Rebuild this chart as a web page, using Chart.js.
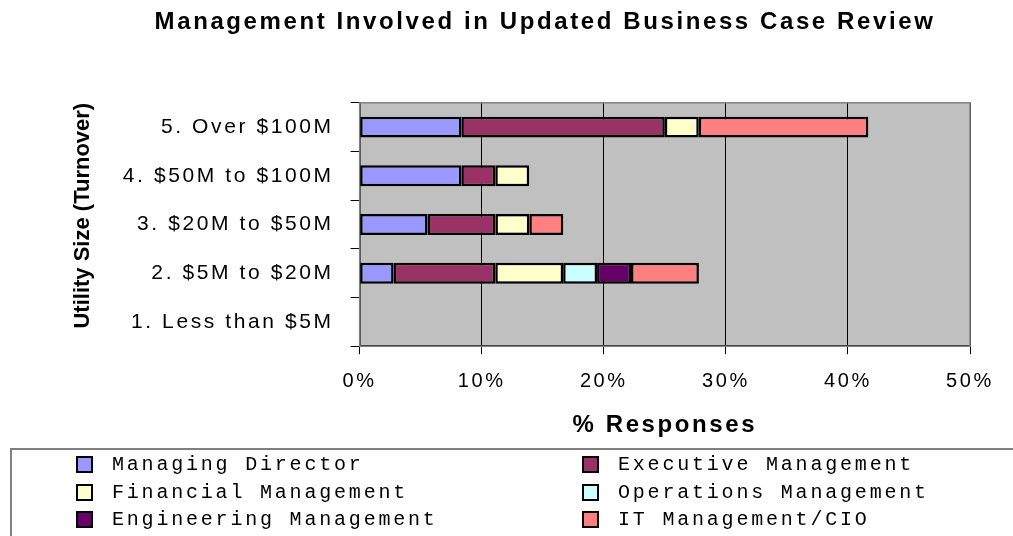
<!DOCTYPE html>
<html>
<head>
<meta charset="utf-8">
<title>Management Involved in Updated Business Case Review</title>
<script src="https://cdn.jsdelivr.net/npm/chart.js@4"></script>
<style>
  body { margin: 0; background: #fff; overflow: hidden; }
  #wrap { position: relative; width: 1013px; height: 536px; }
  #legend {
    position: absolute;
    left: 10px;
    top: 448px;
    width: 1020px;
    height: 100px;
    box-sizing: border-box;
    border-top: 2px solid #808080;
    border-left: 2px solid #808080;
    padding: 1px 0 0 64px;
    display: grid;
    grid-template-columns: 506px auto;
    grid-auto-rows: 27.5px;
    font-family: "Liberation Mono", monospace;
    font-size: 20px;
    letter-spacing: 2.8px;
    color: #000;
  }
  .item { display: flex; align-items: center; white-space: nowrap; }
  .swatch { width: 13px; height: 13px; border: 2px solid #000; margin-right: 19px; }
</style>
</head>
<body>
<div id="wrap">
  <canvas id="chart" width="1013" height="536"></canvas>
  <div id="legend"></div>
</div>
<script>
const sizeLabels = [
  "5. Over $100M",
  "4. $50M to $100M",
  "3. $20M to $50M",
  "2. $5M to $20M",
  "1. Less than $5M",
];

const roleNames = [
  "Managing Director",
  "Executive Management",
  "Financial Management",
  "Operations Management",
  "Engineering Management",
  "IT Management/CIO",
];

const roleColors = ["#9999FF", "#993366", "#FFFFCC", "#CCFFFF", "#660066", "#FF8080"];

// % of responses, one array per role, rows in sizeLabels order
const managingDirector = [8.33, 8.33, 5.56, 2.78, 0];
const executiveMgmt = [16.67, 2.78, 5.56, 8.33, 0];
const financialMgmt = [2.78, 2.78, 2.78, 5.56, 0];
const operationsMgmt = [0, 0, 0, 2.78, 0];
const engineeringMgmt = [0, 0, 0, 2.78, 0];
const itMgmt = [13.89, 0, 2.78, 5.56, 0];

const roleValues = [managingDirector, executiveMgmt, financialMgmt, operationsMgmt, engineeringMgmt, itMgmt];

const xTicks = [0, 10, 20, 30, 40, 50];

// grey plot area, spaced lettering like the original print
const plotArea = {
  id: "plotArea",
  beforeDraw(chart) {
    const { ctx, chartArea: a } = chart;
    ctx.save();
    ctx.fillStyle = "#c0c0c0";
    ctx.fillRect(a.left, a.top, a.width, a.height);
    ctx.restore();
    ctx.letterSpacing = "2.6px";

    // the rotated axis title is not spaced
    const y = chart.scales.y;
    if (!y._plainTitle) {
      const drawTitle = y.drawTitle;
      y.drawTitle = function () {
        const prev = this.ctx.letterSpacing;
        this.ctx.letterSpacing = "0px";
        drawTitle.call(this);
        this.ctx.letterSpacing = prev;
      };
      y._plainTitle = true;
    }
  },
  beforeDatasetsDraw(chart) {
    const { ctx, chartArea: a } = chart;
    ctx.save();
    ctx.strokeStyle = "#808080";
    ctx.lineWidth = 1.5;
    ctx.strokeRect(a.left, a.top, a.width, a.height);
    ctx.restore();
  },
  afterDraw(chart) {
    chart.ctx.letterSpacing = "0px";
  },
};

function renderLegend() {
  const legend = document.getElementById("legend");
  roleNames.forEach((name, i) => {
    const item = document.createElement("div");
    item.className = "item";
    item.innerHTML = `<span class="swatch" style="background:${roleColors[i]}"></span><span>${name}</span>`;
    legend.appendChild(item);
  });
}

function renderChart() {
  const canvas = document.getElementById("chart");

  const datasets = roleNames.map((name, i) => ({
    label: name,
    data: roleValues[i],
    backgroundColor: roleColors[i],
    borderColor: "#000",
    borderWidth: 2.5,
    borderSkipped: false,
    barPercentage: 0.43,
    categoryPercentage: 1,
  }));

  new Chart(canvas, {
    type: "bar",
    data: { labels: sizeLabels, datasets },
    options: {
      indexAxis: "y",
      responsive: false,
      animation: false,
      layout: { padding: { left: 120, right: 43, top: 0, bottom: 96 } },
      plugins: {
        legend: { display: false },
        tooltip: { enabled: false },
        title: {
          display: true,
          text: "Management Involved in Updated Business Case Review",
          font: { family: "Liberation Sans, Arial", size: 24, weight: "bold" },
          color: "#000",
          padding: { top: 8, bottom: 66 },
        },
      },
      scales: {
        x: {
          stacked: true,
          min: 0,
          max: 50,
          afterBuildTicks: (axis) => {
            axis.ticks = xTicks.map((v) => ({ value: v }));
          },
          grid: { color: "#000", lineWidth: 1, tickLength: 8 },
          border: { display: true, color: "#000", width: 1.5 },
          ticks: {
            color: "#000",
            padding: 15,
            maxRotation: 0,
            font: { family: "Liberation Sans, Arial", size: 20 },
            callback: (v) => `${v}%`,
          },
          title: {
            display: true,
            text: "% Responses",
            color: "#000",
            font: { family: "Liberation Sans, Arial", size: 24, weight: "bold" },
            padding: { top: 3, bottom: 0 },
          },
        },
        y: {
          stacked: true,
          grid: { drawOnChartArea: false, offset: true, tickLength: 9, color: "#000" },
          border: { display: true, color: "#404040", width: 2 },
          ticks: {
            color: "#000",
            padding: 17,
            font: { family: "Liberation Sans, Arial", size: 21 },
          },
          title: {
            display: true,
            text: "Utility Size (Turnover)",
            align: "end",
            color: "#000",
            font: { family: "Liberation Sans, Arial", size: 22, weight: "bold" },
            padding: { top: -50, bottom: 51 },
          },
        },
      },
    },
    plugins: [plotArea],
  });
}

document.addEventListener("DOMContentLoaded", () => {
  renderLegend();
  renderChart();
});
</script>
</body>
</html>
